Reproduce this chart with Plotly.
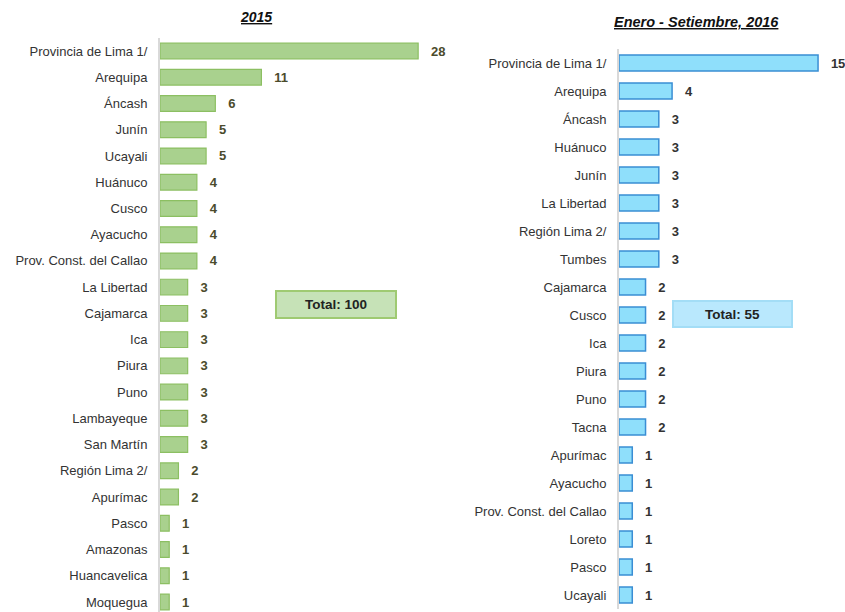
import plotly.graph_objects as go

W, H = 845, 612

# 2015
reg_2015 = ["Provincia de Lima 1/", "Arequipa", "Áncash", "Junín", "Ucayali", "Huánuco",
            "Cusco", "Ayacucho", "Prov. Const. del Callao", "La Libertad", "Cajamarca",
            "Ica", "Piura", "Puno", "Lambayeque", "San Martín", "Región Lima 2/",
            "Apurímac", "Pasco", "Amazonas", "Huancavelica", "Moquegua"]
val_2015 = [28, 11, 6, 5, 5, 4, 4, 4, 4, 3, 3, 3, 3, 3, 3, 3, 2, 2, 1, 1, 1, 1]

# Enero - Setiembre 2016
reg_2016 = ["Provincia de Lima 1/", "Arequipa", "Áncash", "Huánuco", "Junín", "La Libertad",
            "Región Lima 2/", "Tumbes", "Cajamarca", "Cusco", "Ica", "Piura", "Puno",
            "Tacna", "Apurímac", "Ayacucho", "Prov. Const. del Callao", "Loreto",
            "Pasco", "Ucayali"]
val_2016 = [15, 4, 3, 3, 3, 3, 3, 3, 2, 2, 2, 2, 2, 2, 1, 1, 1, 1, 1, 1]

titles = ["2015", "Enero - Setiembre, 2016"]
totals = ["Total: 100", "Total: 55"]

FONT = "Liberation Sans, Arial, sans-serif"
PAD = "\u00a0\u00a0\u2009"

def px_x(p):
    return p / W

def px_y(p):
    return 1 - p / H

fig = go.Figure()

fig.add_trace(go.Bar(
    x=val_2015, y=reg_2015, orientation="h",
    marker=dict(color="#a9d18e", line=dict(color="#8cbf62", width=1.2)),
    width=0.6,
    text=[f"{PAD}{v}" for v in val_2015], textposition="outside",
    textfont=dict(family=FONT, size=13, color="#4b4b2c", weight="bold"),
    constraintext="none", cliponaxis=False,
    xaxis="x", yaxis="y", hoverinfo="skip",
))

fig.add_trace(go.Bar(
    x=val_2016, y=reg_2016, orientation="h",
    marker=dict(color="#8fdffb", line=dict(color="#3a8ed4", width=1.5)),
    width=0.57,
    text=[f"{PAD}{v}" for v in val_2016], textposition="outside",
    textfont=dict(family=FONT, size=13, color="#333333", weight="bold"),
    constraintext="none", cliponaxis=False,
    xaxis="x2", yaxis="y2", hoverinfo="skip",
))

# panel geometry (pixels)
lx0, lscale = 160, 9.22
rx0, rscale = 619, 13.27
lrange = 30
rrange = 17

ytick_font = dict(family=FONT, size=13, color="#333333")

fig.update_layout(
    width=W, height=H,
    margin=dict(l=0, r=0, t=0, b=0),
    paper_bgcolor="white", plot_bgcolor="rgba(0,0,0,0)",
    showlegend=False,
    bargap=0.4,
    xaxis=dict(domain=[px_x(lx0), px_x(lx0 + lrange * lscale)], range=[0, lrange],
               visible=False, fixedrange=True),
    yaxis=dict(domain=[0, px_y(51 - 0.5 * 26.24)],
               range=[21 + 10 / 26.24, -0.5],
               categoryorder="array", categoryarray=reg_2015,
               showline=True, linecolor="#d9d9d9", linewidth=2,
               ticks="outside", ticklen=8, tickcolor="rgba(0,0,0,0)",
               tickfont=ytick_font, showgrid=False, zeroline=False,
               anchor="x"),
    xaxis2=dict(domain=[px_x(rx0), min(1.0, px_x(rx0 + rrange * rscale))], range=[0, rrange],
                visible=False, fixedrange=True, anchor="y2"),
    yaxis2=dict(domain=[px_y(63 + 19.5 * 28), px_y(63 - 0.5 * 28)],
                range=[19.5, -0.5],
                categoryorder="array", categoryarray=reg_2016,
                showline=True, linecolor="#d9d9d9", linewidth=2,
                ticks="outside", ticklen=8, tickcolor="rgba(0,0,0,0)",
                tickfont=ytick_font, showgrid=False, zeroline=False,
                anchor="x2"),
)

# panel titles
fig.add_annotation(x=px_x(256), y=px_y(17), xref="paper", yref="paper",
                   text=f"<b><i><u>{titles[0]}</u></i></b>", showarrow=False,
                   font=dict(family=FONT, size=14, color="#111111"),
                   xanchor="center", yanchor="middle")
fig.add_annotation(x=px_x(696), y=px_y(22), xref="paper", yref="paper",
                   text=f"<b><i><u>{titles[1]}</u></i></b>", showarrow=False,
                   font=dict(family=FONT, size=14.5, color="#111111"),
                   xanchor="center", yanchor="middle")

# total boxes
fig.add_annotation(x=px_x(336), y=px_y(304), xref="paper", yref="paper",
                   text=f"<b>{totals[0]}</b>", showarrow=False,
                   font=dict(family=FONT, size=13.5, color="#222222"),
                   width=118, height=25, borderpad=0, borderwidth=2,
                   bgcolor="#c6e2b7", bordercolor="#9fca72",
                   xanchor="center", yanchor="middle")
fig.add_annotation(x=px_x(732.5), y=px_y(313.5), xref="paper", yref="paper",
                   text=f"<b>{totals[1]}</b>", showarrow=False,
                   font=dict(family=FONT, size=13.5, color="#222222"),
                   width=117, height=24, borderpad=0, borderwidth=2,
                   bgcolor="#b9e8fd", bordercolor="#a3ddf6",
                   xanchor="center", yanchor="middle")

fig.write_html("out.html")
